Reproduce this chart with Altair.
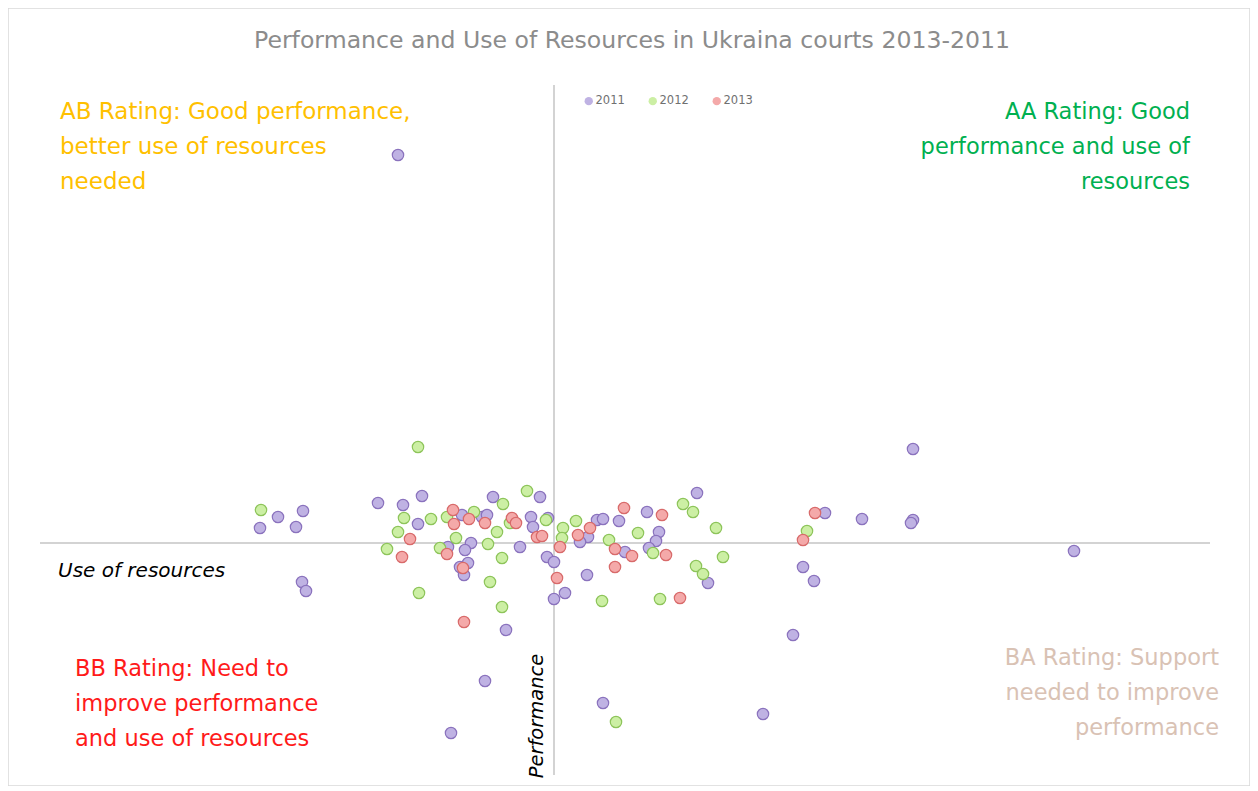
import altair as alt
import pandas as pd

# Values (arbitrary units, origin at the axes crossing)
x_2011 = [-156, -176, -151, -132, -276, -251, -294, -258, -252, -248, -136, -61, -14, 143,
          -92, -72, -67, -23, -6, -21, -106, -83, -89, -86, -90, -94, -34, -7, 0, 34, 26,
          43, 49, 65, 93, 105, 102, 71, 95, 154, 33, 11, 0, -48, 359, 271, 308, 359, 357,
          249, 260, 239, -69, -103, 49, 209, 520]
y_2011 = [388, 40, 38, 47, 26, 32, 15, 16, -39, -48, 19, 46, 46, 50,
          28, 26, 28, 26, 25, 16, -4, 0, -7, -20, -32, -24, -4, -14, -19, 6, 1,
          23, 24, 22, 31, 11, 2, -9, -5, -40, -32, -50, -56, -87, 94, 30, 24, 23, 20,
          -24, -38, -92, -138, -190, -160, -171, -8]

x_2012 = [-136, -293, -150, -123, -156, -167, -135, -27, -51, -107, -80, -57, -44, -8,
          -98, -114, -66, -52, 9, 8, 22, 129, 139, 162, 84, 55, 99, 169, 142, 149, -64,
          48, 106, -52, 253, 62]
y_2012 = [96, 33, 25, 24, 11, -6, -50, 52, 39, 26, 31, 11, 20, 23,
          5, -5, -1, -15, 15, 5, 22, 39, 31, 15, 10, 3, -10, -14, -23, -31, -39,
          -58, -56, -64, 12, -179]

x_2013 = [-144, -152, -101, -100, -85, -69, -42, -38, -17, -12, -107, -91, 6, 24, 36, 70,
          108, 61, 78, 112, 61, 3, 126, -90, 261, 249]
y_2013 = [4, -14, 33, 19, 24, 20, 25, 20, 6, 7, -11, -25, -4, 8, 15, 35,
          28, -6, -13, -12, -24, -35, -55, -79, 30, 3]

years = ["2011", "2012", "2013"]
fill_colors = ["#bfb2e3", "#ccefa4", "#f4a9a9"]
stroke_colors = ["#8a72bd", "#8dc45a", "#d86a6a"]

title_text = "Performance and Use of Resources in Ukraina courts 2013-2011"
ab_text = ["AB Rating: Good performance,", "better use of resources", "needed"]
aa_text = ["AA Rating: Good", "performance and use of", "resources"]
bb_text = ["BB Rating: Need to", "improve performance", "and use of resources"]
ba_text = ["BA Rating: Support", "needed to improve", "performance"]
x_label = "Use of resources"
y_label = "Performance"

rows = []
for yr, xs_, ys_ in zip(years, [x_2011, x_2012, x_2013], [y_2011, y_2012, y_2013]):
    for a, b in zip(xs_, ys_):
        rows.append({"Year": yr, "x": a, "y": b})
df = pd.DataFrame(rows)

W, H = 1242, 778
xs = alt.Scale(domain=[-546, 696], nice=False, zero=False)
ys = alt.Scale(domain=[-243, 535], nice=False, zero=False)

axes_df = pd.DataFrame({"x": [-514, 0], "x2": [656, 0], "y": [0, -232], "y2": [0, 458]})

axis_lines = alt.Chart(axes_df).mark_rule(color="#c4c4c4", strokeWidth=1.5).encode(
    x=alt.X("x:Q", scale=xs, axis=None),
    x2="x2:Q",
    y=alt.Y("y:Q", scale=ys, axis=None),
    y2="y2:Q",
)

points = alt.Chart(df).mark_circle(size=130, opacity=1, strokeWidth=1.2).encode(
    x=alt.X("x:Q", scale=xs, axis=None),
    y=alt.Y("y:Q", scale=ys, axis=None),
    fill=alt.Fill("Year:N", scale=alt.Scale(domain=years, range=fill_colors),
                  legend=alt.Legend(orient="none", legendX=575, legendY=87,
                                    direction="horizontal", title=None,
                                    symbolType="circle", symbolSize=70,
                                    symbolStrokeWidth=0,
                                    labelFontSize=11.5, labelColor="#707070",
                                    labelFont="DejaVu Sans", labelOffset=1,
                                    columnPadding=22)),
    stroke=alt.Stroke("Year:N", scale=alt.Scale(domain=years, range=stroke_colors),
                      legend=None),
)


def txt(lines, x, y, color, align, size=22.5, font="DejaVu Sans", **kw):
    return alt.Chart(pd.DataFrame({"a": [0]})).mark_text(
        text=lines, align=align, baseline="alphabetic", fontSize=size, font=font,
        color=color, lineHeight=35, **kw
    ).encode(x=alt.value(x), y=alt.value(y))


title = txt(title_text, 624, 40, "#8c8c8c", "center", size=23.6)
ab = txt(ab_text, 52, 111, "#ffc000", "left", size=23)
aa = txt(aa_text, 1182, 111, "#00b050", "right")
bb = txt(bb_text, 67, 668, "#ff1a1a", "left")
ba = txt(ba_text, 1211, 657, "#d9c2b4", "right")
xl = txt(x_label, 50, 569, "#000000", "left", size=20, fontStyle="italic")
yl = txt(y_label, 535, 708, "#000000", "center", size=19.5, fontStyle="italic", angle=270)

chart = alt.layer(axis_lines, points, title, ab, aa, bb, ba, xl, yl).properties(
    width=W, height=H, padding=0, autosize=alt.AutoSizeParams(type="none")
).configure_view(stroke="#d9d9d9", strokeWidth=1.5)

chart.save("out.html", embed_options={"renderer": "svg", "actions": False})
